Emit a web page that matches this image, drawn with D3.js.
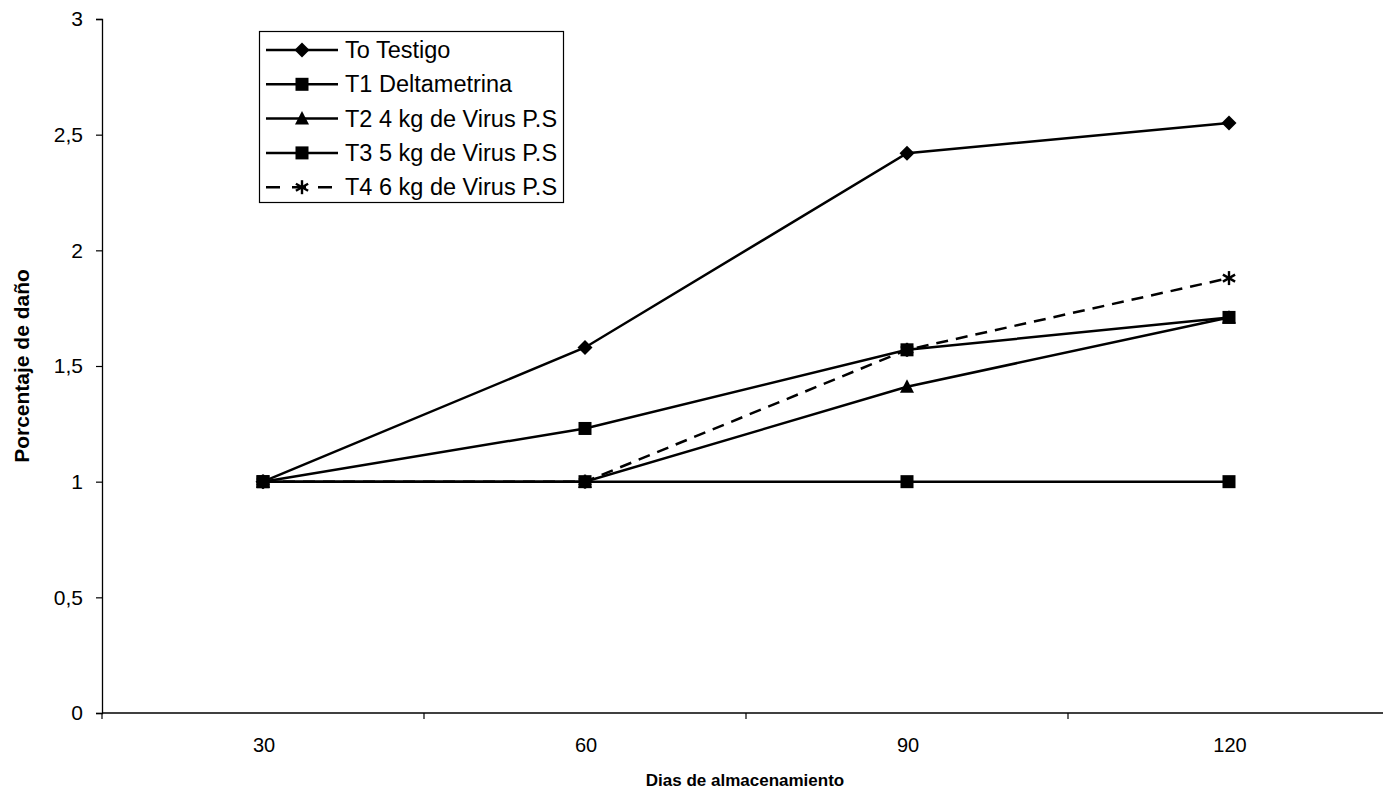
<!DOCTYPE html>
<html>
<head>
<meta charset="utf-8">
<script src="https://cdn.jsdelivr.net/npm/d3@7"></script>
<style>
  html, body { margin: 0; padding: 0; background: #fff; }
  svg { display: block; font-family: "Liberation Sans", Arial, sans-serif; }
</style>
</head>
<body>
<svg id="chart" width="1383" height="796"></svg>
<script>
// Storage days (categories)
const days = ["30", "60", "90", "120"];

// Damage percentage per treatment
const t0Testigo      = [1, 1.58, 2.42, 2.55];
const t1Deltametrina = [1, 1.23, 1.57, 1.71];
const t2Virus4kg     = [1, 1, 1.41, 1.71];
const t3Virus5kg     = [1, 1, 1, 1];
const t4Virus6kg     = [1, 1, 1.57, 1.88];

const seriesNames = [
  "To Testigo",
  "T1 Deltametrina",
  "T2 4 kg de Virus P.S",
  "T3 5 kg de Virus P.S",
  "T4 6 kg de Virus P.S"
];
const yTicks = [0, 0.5, 1, 1.5, 2, 2.5, 3];

const series = [
  { name: seriesNames[0], values: t0Testigo,      marker: "diamond",  dashed: false },
  { name: seriesNames[1], values: t1Deltametrina, marker: "square",   dashed: false },
  { name: seriesNames[2], values: t2Virus4kg,     marker: "triangle", dashed: false },
  { name: seriesNames[3], values: t3Virus5kg,     marker: "square",   dashed: false },
  { name: seriesNames[4], values: t4Virus6kg,     marker: "asterisk", dashed: true }
];

const svg = d3.select("#chart");
const plot = { left: 102, top: 19, right: 1390, bottom: 713 };

const x = d3.scaleBand().domain(days).range([plot.left, plot.right]);
const y = d3.scaleLinear().domain([0, 3]).range([plot.bottom, plot.top]);
const cx = d => x(d) + x.bandwidth() / 2;

// Y axis
const yAxis = d3.axisLeft(y)
  .tickValues(yTicks)
  .tickSize(6)
  .tickPadding(13)
  .tickFormat(d => String(d).replace(".", ","));
const gy = svg.append("g").attr("transform", `translate(${plot.left},0)`).call(yAxis);
gy.select(".domain").attr("stroke", "#000").attr("stroke-width", 1.3);
gy.selectAll(".tick line").attr("stroke", "#000").attr("stroke-width", 1.2);
gy.selectAll(".tick text")
  .attr("fill", "#000")
  .style("font-size", "21px")
  .style("font-family", "Liberation Sans, Arial, sans-serif");

// X axis: ticks sit on category boundaries, labels centred in each band
svg.append("line")
  .attr("x1", plot.left).attr("x2", 1383)
  .attr("y1", plot.bottom).attr("y2", plot.bottom)
  .attr("stroke", "#000").attr("stroke-width", 1.3);
const boundaries = days.map(d => x(d)).concat([x(days[days.length - 1]) + x.bandwidth()]);
svg.append("g").selectAll("line")
  .data(boundaries)
  .join("line")
  .attr("x1", d => d).attr("x2", d => d)
  .attr("y1", plot.bottom).attr("y2", plot.bottom + 6)
  .attr("stroke", "#000").attr("stroke-width", 1.2);
svg.append("g").selectAll("text")
  .data(days)
  .join("text")
  .attr("x", d => cx(d) + 1)
  .attr("y", 752)
  .attr("text-anchor", "middle")
  .style("font-size", "20px")
  .text(d => d);

// Axis titles
svg.append("text")
  .attr("x", 745).attr("y", 786)
  .attr("text-anchor", "middle")
  .style("font-size", "17px")
  .style("font-weight", "bold")
  .text("Dias de almacenamiento");
svg.append("text")
  .attr("transform", "translate(29,366) rotate(-90)")
  .attr("text-anchor", "middle")
  .style("font-size", "21px")
  .style("font-weight", "bold")
  .text("Porcentaje de daño");

// Marker drawing
function drawMarker(g, type, px, py) {
  if (type === "diamond") {
    g.append("path")
      .attr("d", `M${px},${py - 7.5}L${px + 7.5},${py}L${px},${py + 7.5}L${px - 7.5},${py}Z`)
      .attr("fill", "#000");
  } else if (type === "square") {
    g.append("rect")
      .attr("x", px - 6.5).attr("y", py - 6.5)
      .attr("width", 13).attr("height", 13)
      .attr("fill", "#000");
  } else if (type === "triangle") {
    g.append("path")
      .attr("d", `M${px},${py - 7.5}L${px + 7},${py + 6}L${px - 7},${py + 6}Z`)
      .attr("fill", "#000");
  } else if (type === "asterisk") {
    const r = 7;
    const a = g.append("g").attr("stroke", "#000").attr("stroke-width", 2.4);
    a.append("line").attr("x1", px).attr("x2", px).attr("y1", py - r).attr("y2", py + r);
    a.append("line").attr("x1", px - r * 0.87).attr("x2", px + r * 0.87).attr("y1", py - r * 0.5).attr("y2", py + r * 0.5);
    a.append("line").attr("x1", px - r * 0.87).attr("x2", px + r * 0.87).attr("y1", py + r * 0.5).attr("y2", py - r * 0.5);
  }
}

// Series lines and markers
const line = d3.line().x((v, i) => cx(days[i])).y(v => y(v));
const gSeries = svg.append("g");
series.forEach(s => {
  gSeries.append("path")
    .attr("d", line(s.values))
    .attr("fill", "none")
    .attr("stroke", "#000")
    .attr("stroke-width", 2.5)
    .attr("stroke-dasharray", s.dashed ? "12,8" : null);
});
series.forEach(s => {
  const gm = gSeries.append("g");
  s.values.forEach((v, i) => drawMarker(gm, s.marker, cx(days[i]), y(v)));
});

// Legend
const legend = svg.append("g");
legend.append("rect")
  .attr("x", 259.5).attr("y", 31.5)
  .attr("width", 304).attr("height", 171)
  .attr("fill", "#fff").attr("stroke", "#000").attr("stroke-width", 1.2);
series.forEach((s, i) => {
  const ly = 50 + i * 34.3;
  legend.append("line")
    .attr("x1", 266).attr("x2", 338)
    .attr("y1", ly).attr("y2", ly)
    .attr("stroke", "#000").attr("stroke-width", 2.5)
    .attr("stroke-dasharray", s.dashed ? "14,12" : null);
  drawMarker(legend, s.marker, 302, ly);
  legend.append("text")
    .attr("x", 345).attr("y", ly + 8)
    .style("font-size", "23.5px")
    .text(s.name);
});
</script>
</body>
</html>
